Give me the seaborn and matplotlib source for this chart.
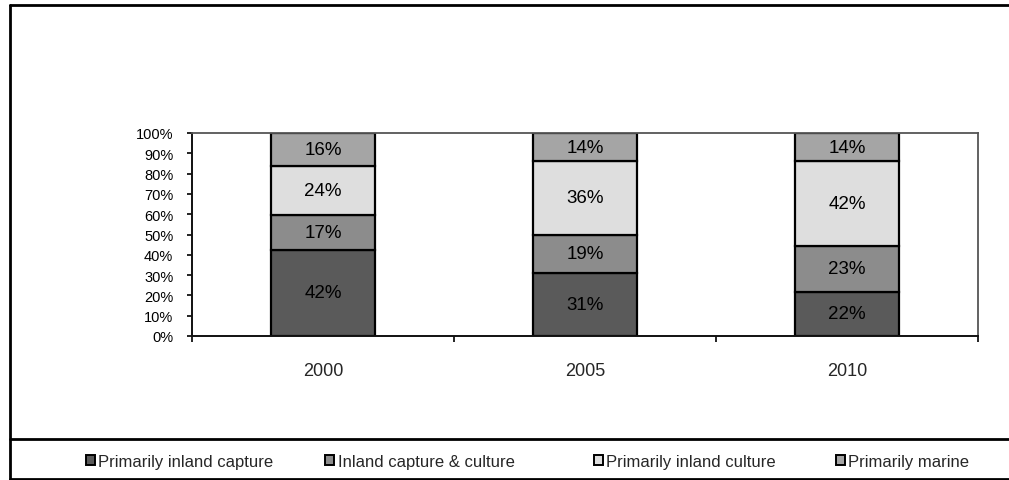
import matplotlib
matplotlib.use("Agg")
import matplotlib.pyplot as plt
from matplotlib.lines import Line2D
from matplotlib.patches import Patch
from matplotlib.ticker import FixedLocator
import numpy as np
import pandas as pd
import seaborn as sns

# Share of production by water-body type, per year (labels in %)
years = ["2000", "2005", "2010"]
series_names = [
    "Primarily inland capture",
    "Inland capture & culture",
    "Primarily inland culture",
    "Primarily marine",
]
inland_capture = [42, 31, 22]
capture_culture = [17, 19, 23]
inland_culture = [24, 36, 42]
marine = [16, 14, 14]
series_values = [inland_capture, capture_culture, inland_culture, marine]
series_colors = ["#5a5a5a", "#8c8c8c", "#dedede", "#a5a5a5"]
y_ticks = list(range(0, 101, 10))

sns.set_style("white")
plt.rcParams["font.family"] = ["Liberation Sans", "DejaVu Sans"]

W, H = 1009, 481
fig = plt.figure(figsize=(W / 100, H / 100), dpi=100)
fig.patch.set_facecolor("white")

ax = fig.add_axes([192 / W, 1 - 337 / H, (978 - 192) / W, (337 - 134) / H])

# 100% stacked columns: each year is normalised to its own total
totals = np.sum(np.array(series_values, dtype=float), axis=0)
records = []
for name, vals in zip(series_names, series_values):
    for yr, v, t in zip(years, vals, totals):
        records.append({"year": yr, "series": name, "value": v, "share": v / t * 100})
df = pd.DataFrame(records)

bottom = np.zeros(len(years))
for name, color in zip(series_names, series_colors):
    sub = df[df["series"] == name].set_index("year").loc[years].reset_index()
    sns.barplot(
        data=sub, x="year", y="share", order=years, bottom=bottom,
        color=color, width=0.4, edgecolor="black", linewidth=1.6,
        errorbar=None, saturation=1, ax=ax,
    )
    for i, (share, val) in enumerate(zip(sub["share"], sub["value"])):
        ax.text(i, bottom[i] + share / 2, f"{val}%", ha="center", va="center",
                fontsize=13.5, color="black")
    bottom = bottom + sub["share"].to_numpy()

ax.set_xlim(-0.5, len(years) - 0.5)
ax.set_ylim(0, 100)
ax.set_yticks(y_ticks)
ax.set_yticklabels([f"{t}%" for t in y_ticks])
ax.set_xlabel("")
ax.set_ylabel("")

ax.tick_params(axis="y", direction="out", length=3.5, width=1.2, pad=10,
               labelsize=10.5, colors="black", left=True)
ax.tick_params(axis="x", which="major", length=0, pad=19, labelsize=13)
ax.xaxis.set_minor_locator(FixedLocator(np.arange(-0.5, len(years), 1.0)))
ax.tick_params(axis="x", which="minor", direction="out", length=4, width=1.2,
               bottom=True, color="black")

for side in ["left", "bottom"]:
    ax.spines[side].set_color("#111111")
    ax.spines[side].set_linewidth(1.4)
for side in ["top", "right"]:
    ax.spines[side].set_visible(True)
    ax.spines[side].set_color("#555555")
    ax.spines[side].set_linewidth(1.3)

# Legend entries spread along the bottom strip
legend_left_px = [86, 325, 594, 836]
for name, color, x_px in zip(series_names, series_colors, legend_left_px):
    handle = Patch(facecolor=color, edgecolor="black", linewidth=1.4, label=name)
    fig.legend(handles=[handle], loc="center left",
               bbox_to_anchor=(x_px / W, 1 - 462 / H), frameon=False,
               fontsize=12, handlelength=0.55, handleheight=0.55,
               handletextpad=0.2, borderpad=0, borderaxespad=0)

# Chart frame and legend divider
frame_kw = dict(transform=fig.transFigure, color="black", linewidth=2)
fig.add_artist(Line2D([10 / W, 10 / W], [0, 1 - 6 / H], **frame_kw))
fig.add_artist(Line2D([10 / W, 1], [1 - 6 / H, 1 - 6 / H], **frame_kw))
fig.add_artist(Line2D([10 / W, 1], [1 - 440 / H, 1 - 440 / H], **frame_kw))
fig.add_artist(Line2D([10 / W, 1], [1 - 480 / H, 1 - 480 / H], **frame_kw))

fig.savefig("out.png", dpi=100, facecolor="white")
